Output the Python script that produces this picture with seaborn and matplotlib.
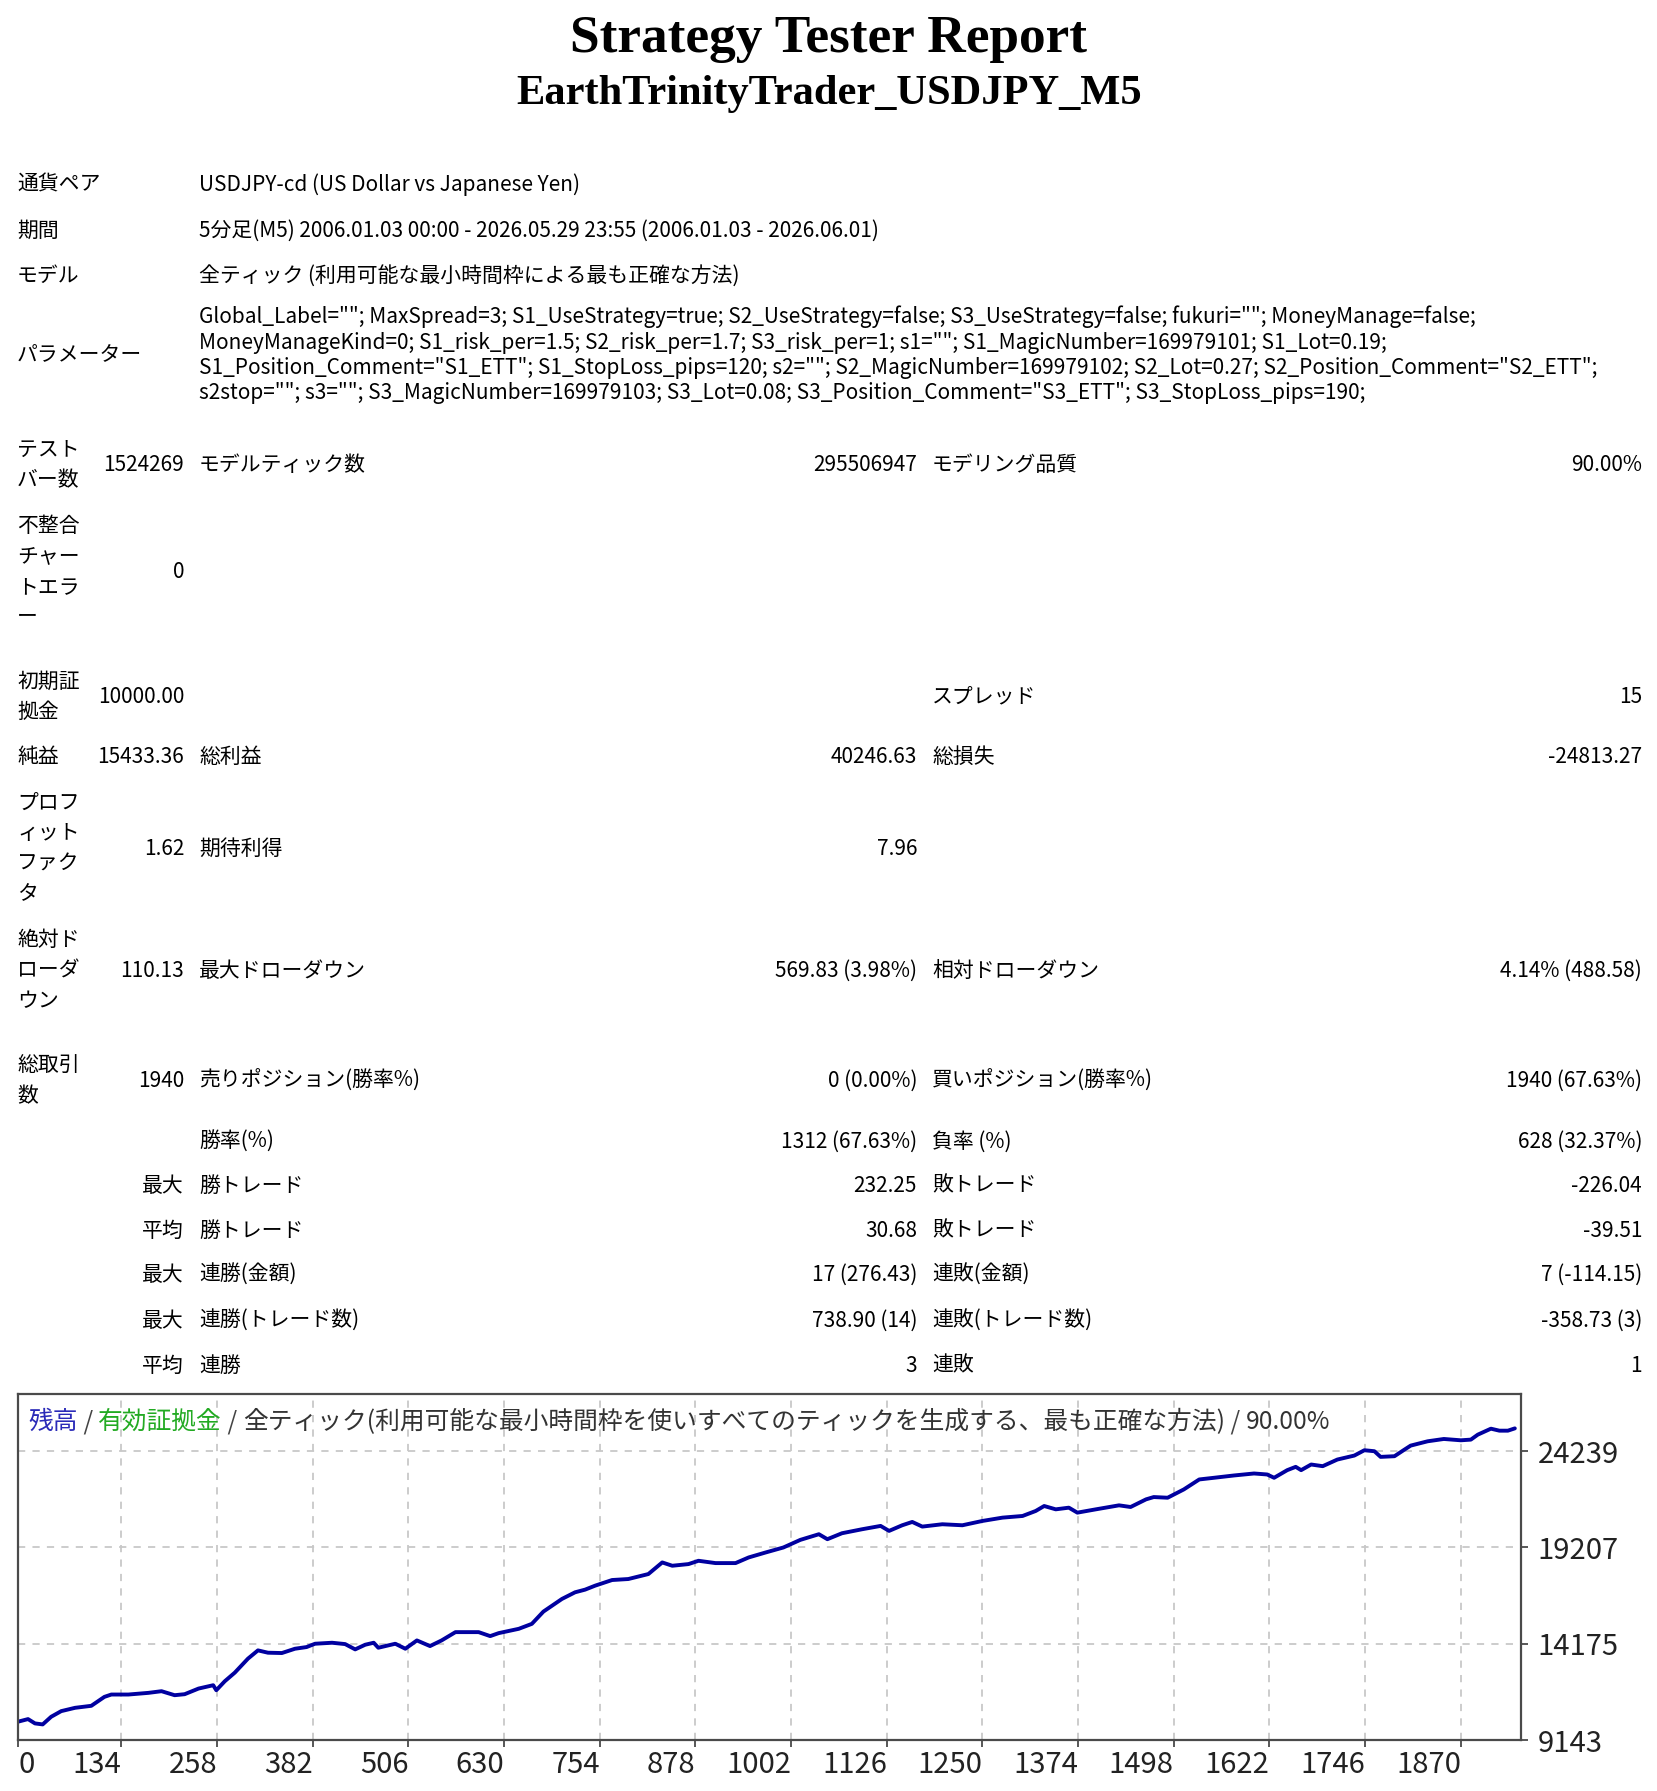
import numpy as np
import pandas as pd
import matplotlib
matplotlib.use("Agg")
import matplotlib.pyplot as plt
import seaborn as sns

# ---------------- data ----------------
title_main = "Strategy Tester Report"
title_sub = "EarthTrinityTrader_USDJPY_M5"

info_labels = ["通貨ペア", "期間", "モデル", "パラメーター"]
info_values = [
    "USDJPY-cd (US Dollar vs Japanese Yen)",
    "5分足(M5) 2006.01.03 00:00 - 2026.05.29 23:55 (2006.01.03 - 2026.06.01)",
    "全ティック (利用可能な最小時間枠による最も正確な方法)",
]
param_lines = [
    'Global_Label=""; MaxSpread=3; S1_UseStrategy=true; S2_UseStrategy=false; S3_UseStrategy=false; fukuri=""; MoneyManage=false;',
    'MoneyManageKind=0; S1_risk_per=1.5; S2_risk_per=1.7; S3_risk_per=1; s1=""; S1_MagicNumber=169979101; S1_Lot=0.19;',
    'S1_Position_Comment="S1_ETT"; S1_StopLoss_pips=120; s2=""; S2_MagicNumber=169979102; S2_Lot=0.27; S2_Position_Comment="S2_ETT";',
    's2stop=""; s3=""; S3_MagicNumber=169979103; S3_Lot=0.08; S3_Position_Comment="S3_ETT"; S3_StopLoss_pips=190;',
]

stat_label1 = [["テスト", "バー数"], ["不整合", "チャー", "トエラ", "ー"], ["初期証", "拠金"], ["純益"],
               ["プロフ", "ィット", "ファク", "タ"], ["絶対ド", "ローダ", "ウン"], ["総取引", "数"],
               [], [], [], [], [], []]
stat_value1 = ["1524269", "0", "10000.00", "15433.36", "1.62", "110.13", "1940",
               "", "最大", "平均", "最大", "最大", "平均"]
stat_label2 = ["モデルティック数", "", "", "総利益", "期待利得", "最大ドローダウン", "売りポジション(勝率%)",
               "勝率(%)", "勝トレード", "勝トレード", "連勝(金額)", "連勝(トレード数)", "連勝"]
stat_value2 = ["295506947", "", "", "40246.63", "7.96", "569.83 (3.98%)", "0 (0.00%)",
               "1312 (67.63%)", "232.25", "30.68", "17 (276.43)", "738.90 (14)", "3"]
stat_label3 = ["モデリング品質", "", "スプレッド", "総損失", "", "相対ドローダウン", "買いポジション(勝率%)",
               "負率 (%)", "敗トレード", "敗トレード", "連敗(金額)", "連敗(トレード数)", "連敗"]
stat_value3 = ["90.00%", "", "15", "-24813.27", "", "4.14% (488.58)", "1940 (67.63%)",
               "628 (32.37%)", "-226.04", "-39.51", "7 (-114.15)", "-358.73 (3)", "1"]

chart_title_parts = ["残高", " / ", "有効証拠金", " / ",
                     "全ティック(利用可能な最小時間枠を使いすべてのティックを生成する、最も正確な方法)", " / ", "90.00%"]

trade_no = [0, 13, 22, 32, 43, 56, 74, 95, 112, 121, 143, 169, 186, 203, 216, 234, 253, 257, 268, 281,
            298, 311, 324, 342, 359, 374, 385, 407, 424, 437, 450, 461, 467, 489, 502, 517, 534, 549, 567, 597,
            612, 623, 649, 666, 681, 705, 722, 735, 748, 770, 791, 817, 835, 848, 869, 882, 904, 930, 947, 969,
            992, 1014, 1038, 1049, 1068, 1094, 1118, 1129, 1146, 1159, 1172, 1198, 1224, 1250, 1276, 1302, 1319, 1330,
            1345, 1362, 1373, 1397, 1427, 1442, 1462, 1472, 1490, 1511, 1531, 1550, 1576, 1602, 1619, 1628, 1645,
            1656, 1663, 1676, 1691, 1710, 1732, 1745, 1758, 1766, 1784, 1797, 1805, 1827, 1848, 1870, 1883, 1892,
            1909, 1920, 1931, 1940]
balance = [10100, 10236, 10010, 9958, 10358, 10652, 10826, 10930, 11398, 11520, 11520, 11607, 11694, 11485,
           11537, 11832, 12006, 11745, 12214, 12665, 13394, 13828, 13706, 13689, 13914, 14001, 14175, 14227, 14157,
           13880, 14123, 14227, 13966, 14175, 13914, 14348, 14053, 14348, 14782, 14782, 14574, 14730, 14955, 15215,
           15857, 16517, 16864, 17003, 17211, 17506, 17558, 17818, 18425, 18252, 18339, 18512, 18391, 18391, 18686,
           18946, 19207, 19605, 19900, 19640, 19952, 20160, 20334, 20074, 20368, 20542, 20299, 20421, 20368, 20594,
           20767, 20854, 21115, 21375, 21201, 21288, 21028, 21201, 21410, 21323, 21722, 21843, 21808, 22242, 22763,
           22850, 22971, 23075, 23023, 22850, 23249, 23422, 23249, 23544, 23457, 23804, 24012, 24290, 24239, 23943,
           23978, 24324, 24532, 24758, 24879, 24810, 24845, 25105, 25417, 25313, 25313, 25433]

x_ticks = [0, 134, 258, 382, 506, 630, 754, 878, 1002, 1126, 1250, 1374, 1498, 1622, 1746, 1870]
y_ticks = [9143, 14175, 19207, 24239]

# ---------------- style ----------------
W, H, DPI = 1657, 1791, 100
sns.set_theme(style="white")
plt.rcParams["font.family"] = ["Noto Sans CJK JP", "DejaVu Sans"]
FONT = ["Noto Sans CJK JP", "DejaVu Sans"]
BODY = 15
TXT = "#000000"

fig = plt.figure(figsize=(W / DPI, H / DPI), dpi=DPI)
fig.patch.set_facecolor("white")


def put(x, y, s, ha="left", size=BODY, **kw):
    """place text with pixel coords (y = visual centre from top)"""
    return fig.text(x / W, 1 - (y + 0.37 * size * DPI / 72) / H, s, ha=ha, va="baseline",
                    fontsize=size, family=FONT, color=kw.pop("color", TXT), **kw)


# titles
fig.text(829 / W, 1 - 52 / H, title_main, ha="center", va="baseline", fontsize=38.3,
         family="Liberation Serif", weight="bold", color="black")
fig.text(829 / W, 1 - 104 / H, title_sub, ha="center", va="baseline", fontsize=30.6,
         family="Liberation Serif", weight="bold", color="black")

# info block
info_y = [183, 229, 274, 353]
for lab, y in zip(info_labels, info_y):
    put(17, y, lab)
for val, y in zip(info_values, info_y[:3]):
    put(199, y, val)
for line, y in zip(param_lines, [315, 341, 366, 391]):
    put(199, y, line)

# stats block
row_y = [463, 570, 695, 755, 847, 969, 1079, 1140, 1184, 1229, 1273, 1319, 1364]
LS = 30.5
for i, y in enumerate(row_y):
    lines = stat_label1[i]
    n = len(lines)
    for k, ln in enumerate(lines):
        put(17, y + (k - (n - 1) / 2) * LS, ln)
    if stat_value1[i]:
        put(184, y, stat_value1[i], ha="right")
    if stat_label2[i]:
        put(199, y, stat_label2[i])
    if stat_value2[i]:
        put(917, y, stat_value2[i], ha="right")
    if stat_label3[i]:
        put(932, y, stat_label3[i])
    if stat_value3[i]:
        put(1642, y, stat_value3[i], ha="right")

# ---------------- chart ----------------
left, right, top, bottom = 18, 1521, 1394, 1740
ax = fig.add_axes([left / W, 1 - bottom / H, (right - left) / W, (bottom - top) / H])
df = pd.DataFrame({"trade": trade_no, "balance": balance})
sns.lineplot(data=df, x="trade", y="balance", ax=ax, color="#0000a0", linewidth=2.8)
ax.set_xlim(0, 1948)
ax.set_ylim(9143, 27230)
ax.set_xlabel("")
ax.set_ylabel("")
ax.set_xticks(x_ticks)
ax.set_xticklabels([str(t) for t in x_ticks])
ax.set_yticks(y_ticks)
ax.set_yticklabels([str(t) for t in y_ticks])
ax.yaxis.tick_right()
ax.grid(True, color="#c8c8c8", linestyle=(0, (4, 4)), linewidth=1.3)
for sp in ax.spines.values():
    sp.set_color("#4a4a4a")
    sp.set_linewidth(1.6)
ax.tick_params(axis="x", direction="out", length=5, width=1.3, color="#4a4a4a",
               labelsize=21, pad=2, labelcolor="#222222", bottom=True)
ax.tick_params(axis="y", direction="out", length=5, width=1.3, color="#4a4a4a",
               labelsize=21, pad=7, labelcolor="#222222", right=True, left=False)
for i, lab in enumerate(ax.get_xticklabels()):
    lab.set_ha("left" if i == 0 else "right")

# chart title (multi coloured)
renderer = fig.canvas.get_renderer()
colors = ["#2a2ab8", "#444444", "#22aa22", "#444444", "#333333", "#444444", "#333333"]
x = 28
for part, c in zip(chart_title_parts, colors):
    t = put(x, 1420, part, size=17.8, color=c)
    bb = t.get_window_extent(renderer)
    x = bb.x1

fig.savefig("out.png", dpi=DPI, facecolor="white")
